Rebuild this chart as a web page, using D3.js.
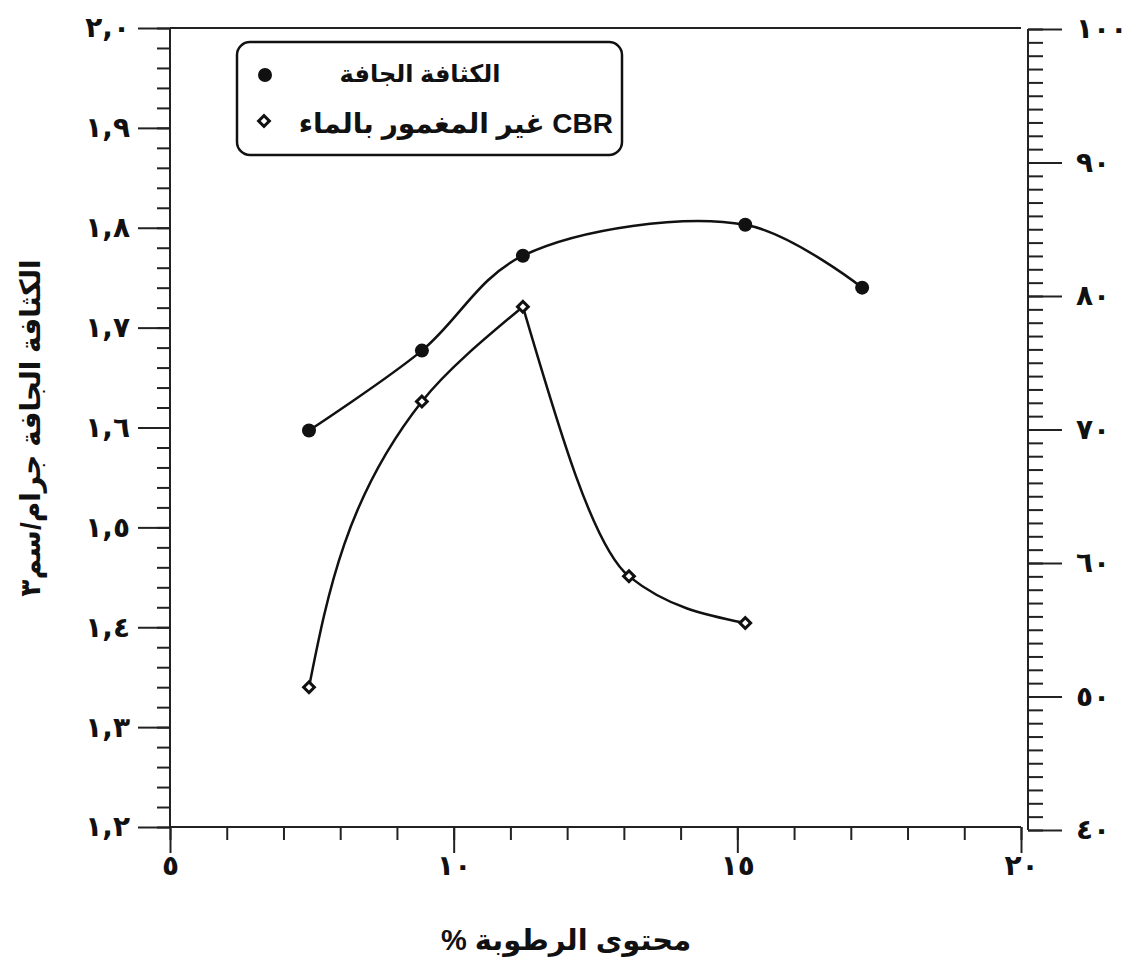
<!DOCTYPE html>
<html>
<head>
<meta charset="utf-8">
<script src="https://cdn.jsdelivr.net/npm/d3@7"></script>
<style>
  body { margin: 0; background: #fff; }
  svg { display: block; font-family: Arial, "Liberation Sans", "DejaVu Sans", sans-serif; }
</style>
</head>
<body>
<div id="chart"></div>
<script>
// moisture content (%) and dry density (g/cm3)
const densityMoisture = [7.45, 9.44, 11.22, 15.14, 17.2];
const dryDensity = [1.597, 1.677, 1.772, 1.803, 1.74];
// unsoaked CBR (right axis)
const cbrMoisture = [7.45, 9.44, 11.22, 13.09, 15.14];
const cbrUnsoaked = [50.7, 72.1, 79.2, 59.0, 55.5];

const xTicks = [5, 10, 15, 20];
const xTickLabels = ['٥', '١٠', '١٥', '٢٠'];
const leftTicks = [1.2, 1.3, 1.4, 1.5, 1.6, 1.7, 1.8, 1.9, 2.0];
const leftTickLabels = ['١,٢', '١,٣', '١,٤', '١,٥', '١,٦', '١,٧', '١,٨', '١,٩', '٢,٠'];
const rightTicks = [40, 50, 60, 70, 80, 90, 100];
const rightTickLabels = ['٤٠', '٥٠', '٦٠', '٧٠', '٨٠', '٩٠', '١٠٠'];

const legendLabels = ['الكثافة الجافة', 'CBR غير المغمور بالماء'];
const xTitle = 'محتوى الرطوبة %';
const yTitle = 'الكثافة الجافة  جرام/سم٣';

const width = 1144, height = 968;
const ink = '#111';

const svg = d3.select('#chart').append('svg')
    .attr('width', width)
    .attr('height', height);

const x = d3.scaleLinear().domain([5, 20]).range([170, 1021]);
const yLeft = d3.scaleLinear().domain([1.2, 2.0]).range([827, 28]);
const yRight = d3.scaleLinear().domain([40, 100]).range([830, 29]);

const styleAxis = (g) => {
    g.select('.domain').remove();
    g.selectAll('line').attr('stroke', '#222').attr('stroke-width', 2);
    g.selectAll('text')
        .attr('fill', ink)
        .style('font-size', '28px')
        .style('font-weight', 'bold')
        .style('font-family', '"DejaVu Sans", sans-serif');
};

// frame lines: left axis, top line, bottom axis, right axis
const frame = [
    [x(5), yLeft(2.0), x(5), yLeft(1.2)],
    [x(5), yLeft(2.0), x(20), yLeft(2.0)],
    [x(5), yLeft(1.2), x(20), yLeft(1.2)],
    [1028, yRight(100), 1028, yRight(40)]
];
svg.selectAll('.frame').data(frame).join('line')
    .attr('class', 'frame')
    .attr('x1', d => d[0]).attr('y1', d => d[1])
    .attr('x2', d => d[2]).attr('y2', d => d[3])
    .attr('stroke', '#222').attr('stroke-width', 2);

// left axis
svg.append('g').attr('transform', `translate(${x(5)},0)`)
    .call(d3.axisLeft(yLeft).tickValues(d3.range(1.2, 2.001, 0.02)).tickSize(13).tickFormat(''))
    .call(styleAxis);
svg.append('g').attr('transform', `translate(${x(5)},0)`)
    .call(d3.axisLeft(yLeft).tickValues(leftTicks).tickSize(32).tickPadding(8)
        .tickFormat((d, i) => leftTickLabels[i]))
    .call(styleAxis);

// right axis
svg.append('g').attr('transform', `translate(1028,0)`)
    .call(d3.axisRight(yRight).tickValues(d3.range(40, 100.1, 1)).tickSize(15).tickFormat(''))
    .call(styleAxis);
svg.append('g').attr('transform', `translate(1028,0)`)
    .call(d3.axisRight(yRight).tickValues(rightTicks).tickSize(34).tickPadding(14)
        .tickFormat((d, i) => rightTickLabels[i]))
    .call(styleAxis);

// bottom axis
svg.append('g').attr('transform', `translate(0,${yLeft(1.2)})`)
    .call(d3.axisBottom(x).tickValues(d3.range(5, 20.01, 1)).tickSize(13).tickFormat(''))
    .call(styleAxis);
svg.append('g').attr('transform', `translate(0,${yLeft(1.2)})`)
    .call(d3.axisBottom(x).tickValues(xTicks).tickSize(26).tickPadding(2)
        .tickFormat((d, i) => xTickLabels[i]))
    .call(styleAxis);

// curves
const densityPts = densityMoisture.map((m, i) => [x(m), yLeft(dryDensity[i])]);
const cbrPts = cbrMoisture.map((m, i) => [x(m), yRight(cbrUnsoaked[i])]);

svg.append('path')
    .attr('d', d3.line().curve(d3.curveCatmullRom.alpha(0.5))(densityPts))
    .attr('fill', 'none').attr('stroke', ink).attr('stroke-width', 2.5);
// rising limb fitted along y, falling limb along x
svg.append('path')
    .attr('d', d3.line().curve(d3.curveMonotoneY)(cbrPts.slice(0, 3)))
    .attr('fill', 'none').attr('stroke', ink).attr('stroke-width', 2.5);
svg.append('path')
    .attr('d', d3.line().curve(d3.curveMonotoneX)(cbrPts.slice(2)))
    .attr('fill', 'none').attr('stroke', ink).attr('stroke-width', 2.5);

svg.selectAll('.dot').data(densityPts).join('circle')
    .attr('class', 'dot')
    .attr('cx', d => d[0]).attr('cy', d => d[1]).attr('r', 7)
    .attr('fill', ink);

const diamond = d3.symbol(d3.symbolSquare, 58);
svg.selectAll('.dia').data(cbrPts).join('path')
    .attr('class', 'dia')
    .attr('d', diamond)
    .attr('transform', d => `translate(${d[0]},${d[1]}) rotate(45)`)
    .attr('fill', '#fff').attr('stroke', ink).attr('stroke-width', 3);

// legend
const legend = svg.append('g');
legend.append('rect')
    .attr('x', 237).attr('y', 42).attr('width', 385).attr('height', 113).attr('rx', 13)
    .attr('fill', '#fff').attr('stroke', ink).attr('stroke-width', 2.5);
legend.append('circle').attr('cx', 265).attr('cy', 75).attr('r', 7).attr('fill', ink);
legend.append('path').attr('d', diamond).attr('transform', 'translate(264,121) rotate(45)')
    .attr('fill', '#fff').attr('stroke', ink).attr('stroke-width', 3);
legend.append('text')
    .attr('x', 420).attr('y', 82)
    .attr('text-anchor', 'middle')
    .attr('direction', 'rtl')
    .style('font-size', '24px').style('font-weight', 'bold')
    .attr('fill', ink)
    .text(legendLabels[0]);
legend.append('text')
    .attr('x', 613).attr('y', 133)
    .attr('text-anchor', 'start')
    .attr('direction', 'rtl')
    .style('font-size', '28px').style('font-weight', 'bold')
    .attr('fill', ink)
    .text(legendLabels[1]);

// axis titles
svg.append('text')
    .attr('x', 566).attr('y', 950)
    .attr('text-anchor', 'middle')
    .attr('direction', 'rtl')
    .style('font-size', '29px').style('font-weight', 'bold')
    .attr('fill', ink)
    .text(xTitle);
svg.append('text')
    .attr('transform', 'translate(40,428) rotate(-90)')
    .attr('text-anchor', 'middle')
    .attr('direction', 'rtl')
    .style('font-size', '28px').style('font-weight', 'bold')
    .attr('fill', ink)
    .text(yTitle);
</script>
</body>
</html>
